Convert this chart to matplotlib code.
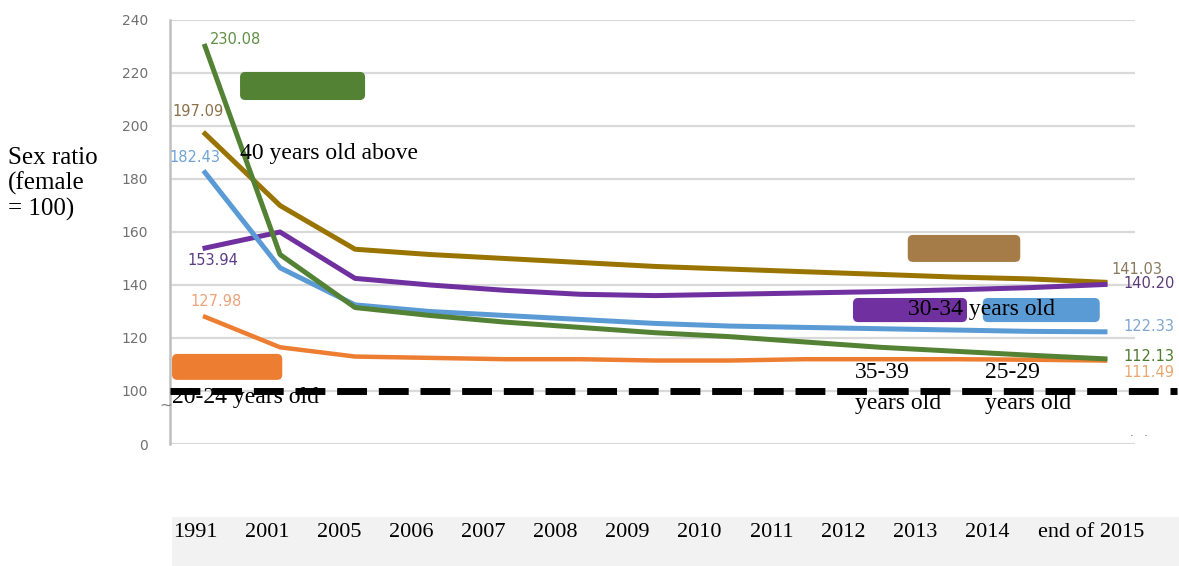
import numpy as np
import matplotlib
matplotlib.use("Agg")
import matplotlib.pyplot as plt
from matplotlib.patches import FancyBboxPatch

# categories and series values (sex ratio, female = 100)
years = ["1991", "2001", "2005", "2006", "2007", "2008", "2009",
         "2010", "2011", "2012", "2013", "2014", "end of 2015"]
age_40_plus = [230.08, 151.5, 131.5, 128.5, 126.0, 124.0, 122.0,
               120.5, 118.5, 116.5, 115.0, 113.5, 112.13]
age_35_39 = [197.09, 170.0, 153.5, 151.5, 150.0, 148.5, 147.0,
             146.0, 145.0, 144.0, 143.0, 142.3, 141.03]
age_30_34 = [153.94, 160.0, 142.5, 140.0, 138.0, 136.5, 136.0,
             136.5, 137.0, 137.5, 138.2, 139.0, 140.20]
age_25_29 = [182.43, 146.5, 132.5, 130.0, 128.5, 127.0, 125.5,
             124.5, 124.0, 123.5, 123.0, 122.5, 122.33]
age_20_24 = [127.98, 116.5, 113.0, 112.5, 112.0, 112.0, 111.5,
             111.5, 112.0, 112.0, 112.0, 111.8, 111.49]
balance = 100

ytick_vals = [0, 100, 120, 140, 160, 180, 200, 220, 240]

serif = ["Liberation Serif", "DejaVu Serif"]

green = "#548235"
gold = "#9a7400"
purple = "#7030a0"
blue = "#5b9bd5"
orange = "#ed7d31"
tan = "#a57c48"


def axis_pos(v):
    # broken axis: 0 sits one step below 100
    return v if v >= 100 else 80 + v


fig = plt.figure(figsize=(11.79, 5.66), dpi=100)
ax = fig.add_axes([170 / 1179, 122 / 566, 965 / 1179, 424 / 566])
x = np.arange(len(years))

ax.set_xlim(-0.467, 12.4)
ax.set_ylim(80, 240)
ax.set_yticks([axis_pos(v) for v in ytick_vals])
ax.set_yticklabels([str(v) for v in ytick_vals], fontsize=10, color="#707070")
ax.tick_params(axis="y", length=0, pad=16)
ax.set_xticks([])
ax.grid(axis="y", color="#d9d9d9", lw=1.6)
ax.set_axisbelow(True)
for s in ["top", "right", "bottom"]:
    ax.spines[s].set_visible(False)
ax.spines["left"].set_color("#bfbfbf")
ax.spines["left"].set_linewidth(1.8)

ax.plot(x, age_35_39, color=gold, lw=3.6, zorder=3)
ax.plot(x, age_30_34, color=purple, lw=3.6, zorder=4)
ax.plot(x, age_25_29, color=blue, lw=3.6, zorder=5)
ax.plot(x, age_20_24, color=orange, lw=3.2, zorder=6)
ax.plot(x, age_40_plus, color=green, lw=3.6, zorder=7)

# sex balance reference line
ax.plot([-0.467, 12.96], [balance, balance], color="black", lw=5,
        dashes=(4.3, 1.7), solid_capstyle="butt", dash_capstyle="butt",
        clip_on=False, zorder=8)

# value labels at both ends
first = [(age_40_plus, 0.07, 232.5, "#5f8f45"),
         (age_35_39, -0.44, 205.3, "#8c7048"),
         (age_25_29, -0.47, 188.0, "#6fa3d6"),
         (age_30_34, -0.23, 149.4, "#5c3b86"),
         (age_20_24, -0.19, 133.6, "#f0a27a")]
for vals, tx, ty, c in first:
    ax.text(tx, ty, f"{vals[0]:.2f}", fontsize=10.5, color=c,
            ha="left", va="center", zorder=9)
last = [(age_35_39, 12.09, 145.8, "#8a7a5e"),
        (age_30_34, 12.24, 140.5, "#5c3b7a"),
        (age_25_29, 12.24, 124.2, "#7fa7cf"),
        (age_40_plus, 12.24, 113.2, "#4f7a30"),
        (age_20_24, 12.24, 106.8, "#e8a870")]
for vals, tx, ty, c in last:
    ax.text(tx, ty, f"{vals[-1]:.2f}", fontsize=10.5, color=c,
            ha="left", va="center", zorder=9, clip_on=False)

# colour keys
aspect = 75 / 2.65
keys = [(0.467, 209.8, 1.667, 10.6, green),
        (-0.44, 104.2, 1.47, 9.8, orange),
        (9.37, 148.7, 1.5, 10.2, tan),
        (8.64, 126.0, 1.52, 9.1, purple),
        (10.37, 126.0, 1.56, 9.1, blue)]
for kx, ky, kw, kh, c in keys:
    ax.add_patch(FancyBboxPatch((kx, ky), kw, kh,
                                boxstyle="round,pad=0,rounding_size=0.07",
                                mutation_aspect=aspect, fc=c, ec="none",
                                zorder=9, clip_on=False))

tkw = dict(fontsize=17, family=serif, color="black", ha="left",
           va="center", zorder=10, clip_on=False)
ax.text(0.467, 189.8, "40 years old above", **tkw)
ax.text(-0.44, 97.4, "20-24 years old", **tkw)
ax.text(9.37, 130.6, "30-34 years old", **tkw)
ax.text(8.67, 106.8, "35-39", **tkw)
ax.text(8.67, 95.1, "years old", **tkw)
ax.text(10.4, 106.8, "25-29", **tkw)
ax.text(10.4, 95.1, "years old", **tkw)

# axis break mark and stray dots
ax.text(-0.53, 94.5, "~", fontsize=11, color="#808080", ha="center",
        va="center", clip_on=False, zorder=11)
ax.text(12.33, 84.0, ".   .", fontsize=8, color="#555555", ha="left",
        va="center", clip_on=False)

fig.text(8 / 1179, 1 - 184 / 566, "Sex ratio\n(female\n= 100)",
         fontsize=18, family=serif, ha="left", va="center", linespacing=1.15)

# year band underneath
band = fig.add_axes([172 / 1179, 0, 1007 / 1179, 49 / 566])
band.set_facecolor("#f2f2f2")
band.set_xlim(-0.326, 13.66)
band.set_ylim(0, 1)
band.set_xticks([])
band.set_yticks([])
for s in band.spines.values():
    s.set_visible(False)
label_x = np.arange(len(years), dtype=float)
label_x[-1] += 0.44
for lx, lab in zip(label_x, years):
    band.text(lx, 0.69, lab, fontsize=16, family=serif, ha="center",
              va="center")

fig.savefig("out.png", dpi=100)
